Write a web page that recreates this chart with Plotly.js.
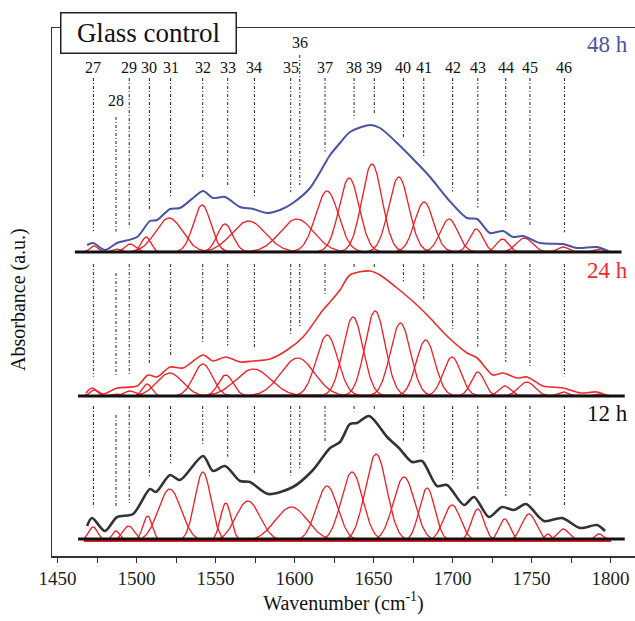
<!DOCTYPE html>
<html><head><meta charset="utf-8">
<script src="https://cdn.plot.ly/plotly-3.0.1.min.js"></script>
<style>
html,body{margin:0;padding:0;background:#fff;}
#chart{width:635px;height:621px;}
#chart svg text, #chart svg tspan { font-family: "Liberation Serif", "Times New Roman", serif !important; }
</style>
</head><body><div id="chart"></div>
<script>
// ---------- DATA ----------
const bandLabels = ['27','28','29','30','31','32','33','34','35','36','37','38','39','40','41','42','43','44','45','46'];
const bandPos = [1472.7,1487,1495.4,1508.1,1521.6,1541.9,1557.7,1574.6,1597.6,1603.3,1619.3,1637.7,1650.5,1668.9,1681.8,1700.1,1716,1733.7,1749,1770.8];

const panelNames = ['48 h','24 h','12 h'];

const env48W = [1468.7,1472.5,1480,1487.7,1500.3,1508.5,1513,1521.2,1527.5,1535.8,1542.1,1548.4,1556,1565.5,1573.7,1582.6,1590.8,1599,1609.8,1618,1622.5,1628.8,1635.1,1647.8,1654.1,1664.9,1677.5,1685.8,1696.5,1709.2,1715.6,1723.7,1732,1738.3,1744.6,1755.4,1770,1778.8,1791.5,1798.4];
const env48A = [7,9,2,9,15,31,32,43,44,54,61,54,55,45,43,39,42,49,64,85,97,109,120,127,124,109,89,75,54,34,33,19,21,15,16,9,8,4,5,1];

const env24W = [1468,1471.8,1478.8,1487.7,1500.3,1507.3,1513,1521.2,1529.4,1542.1,1548.4,1556.6,1565.5,1573.7,1584.5,1595.3,1605.4,1618,1622.5,1628.8,1635.1,1647.8,1654.1,1664.9,1677.5,1685.8,1696.5,1709.2,1715.6,1725.6,1732,1740.8,1747.2,1757.3,1770,1780.7,1791.5,1798.4];
const env24A = [3,8,2,8,10,21,19,29,28,41,35,39,34,35,37,46,59,86,94,106,121,125,121,108,91,78,60,43,38,21,23,18,19,10,8,3,4,0];

const env12W = [1468.7,1471.8,1480,1487.7,1497.8,1508.5,1512.3,1521.2,1527.5,1542.1,1548.4,1556,1565.5,1571.8,1583.2,1599,1611.7,1622.5,1628.8,1635.1,1639.6,1647.2,1658.6,1666.1,1674.4,1680.7,1690.2,1696.5,1707.3,1713.6,1723.1,1731.3,1738.9,1746.5,1757.9,1769.3,1780.7,1791.5,1796.5];
const env12A = [13,21,8,22,25,50,47,64,59,83,68,73,58,57,45,52,69,91,97,115,116,123,102,91,77,78,53,54,34,42,22,32,29,35,18,21,11,14,8];

const comp48Center = [1473,1487,1496,1506,1520.6,1541.5,1556,1571,1601.5,1620.6,1634.6,1649,1666,1682,1697.8,1715,1731.6,1745.5,1770,1793];
const comp48Height = [6,3,8,15,34,47,28,31,33,61,74,88,75,50,33,23,13,14,5,3];
const comp48Fwhm   = [6,6,8,7,20,13,11.5,25,25,17,15,15,15,14,13,10,9,12,8,8];

const comp24Center = [1473,1487,1496,1506.6,1521,1542,1556.5,1574,1602,1620.6,1637,1651,1667,1683,1699.7,1716,1733,1747,1770,1793];
const comp24Height = [6,2,5,12,23,32,21,27,38,61,79,85,73,56,39,24,10,14,4,2];
const comp24Fwhm   = [6,6,9,7,19,14,11,26,25,16,15,15,15,14,13,10,9,12,8,8];

const comp12Center = [1472.5,1487,1495,1507,1521,1542,1556.5,1570.5,1598,1620.6,1636.4,1651.6,1669.3,1683.9,1699.7,1716,1733,1748.4,1760.4,1770,1792.7];
const comp12Height = [14,10,15,25,52,69,38,40,34,55,69,87,64,53,36,32,22,27,7,12,7];
const comp12Fwhm   = [7,6,9,7,17,12,8,18,24,16,16,16,16,11.6,12.7,9.5,8.4,11,5,9,7];

// ---------- BUILD ----------
const serif = '"Liberation Serif", serif';
const panels = [
  {name: panelNames[0], envW: env48W, envA: env48A, c: comp48Center, h: comp48Height, f: comp48Fwhm,
   off: 304, envColor: '#4a52a6', envWidth: 2, compOff: 0, top: 478, nameY: 512, base: [1461,1807]},
  {name: panelNames[1], envW: env24W, envA: env24A, c: comp24Center, h: comp24Height, f: comp24Fwhm,
   off: 160, envColor: '#ee2b2b', envWidth: 1.6, compOff: 0, top: 292, nameY: 286, base: [1463,1809]},
  {name: panelNames[2], envW: env12W, envA: env12A, c: comp12Center, h: comp12Height, f: comp12Fwhm,
   off: 17, envColor: '#333333', envWidth: 2.6, compOff: -2, top: 150, nameY: 143, base: [1463,1809]}
];
const nameColors = ['#4a52a6','#ee2b2b','#111111'];

const grid = [];
for (let x = 1467; x <= 1800.001; x += 0.5) grid.push(x);

function interp(xs, ys, x) {
  if (x <= xs[0]) return ys[0];
  for (let i = 1; i < xs.length; i++) {
    if (x <= xs[i]) { const t = (x - xs[i-1]) / (xs[i] - xs[i-1]); return ys[i-1] + t * (ys[i] - ys[i-1]); }
  }
  return ys[ys.length - 1];
}

const traces = [];
const annotations = [];
panels.forEach((p, pi) => {
  const cx = [], cy = [];
  p.c.forEach((c, i) => {
    const s = p.f[i] / (2 * Math.sqrt(2 * Math.log(2)));
    grid.forEach(x => { cx.push(x); cy.push(p.off + p.compOff + p.h[i] * Math.exp(-0.5 * ((x - c) / s) ** 2)); });
    cx.push(null); cy.push(null);
  });
  traces.push({x: cx, y: cy, mode: 'lines', line: {color: '#ee1d24', width: 1.3}, hoverinfo: 'skip'});
  traces.push({x: p.envW, y: p.envA.map(a => a + p.off), mode: 'lines',
    line: {color: p.envColor, width: p.envWidth, shape: 'spline', smoothing: 0.8}, hoverinfo: 'skip'});
  traces.push({x: p.base, y: [p.off, p.off], mode: 'lines', line: {color: '#111', width: 3}, hoverinfo: 'skip'});
  const lx = [], ly = [];
  bandPos.forEach((b, i) => {
    let top = p.top;
    if (bandLabels[i] === '28') top -= (pi === 0 ? 39 : 9);
    if (bandLabels[i] === '36' && pi === 0) top += 23;
    let bottom = p.off + interp(p.envW, p.envA, b) + 12;
    if (bottom > top - 5) bottom = top - 5;
    lx.push(b, b, null); ly.push(top, bottom, null);
  });
  traces.push({x: lx, y: ly, mode: 'lines', line: {color: '#222', width: 1, dash: '3px,2px,1px,2px'}, hoverinfo: 'skip'});
  annotations.push({xref: 'x', yref: 'y', x: 1798.4, y: p.nameY, text: p.name, showarrow: false,
    font: {family: serif, size: 23, color: nameColors[pi]}});
});

bandLabels.forEach((lab, i) => {
  let y = 489;
  if (lab === '28') y = 456;
  if (lab === '36') y = 514;
  annotations.push({xref: 'x', yref: 'y', x: bandPos[i], y: y, text: lab, showarrow: false,
    font: {family: serif, size: 16, color: '#111'}});
});

annotations.push({xref: 'paper', yref: 'paper', x: (148 - 52) / 583, y: (556 - 33.5) / 528,
  xanchor: 'center', yanchor: 'middle', text: 'Glass control', showarrow: false,
  font: {family: serif, size: 27, color: '#111'}, bgcolor: '#fff', bordercolor: '#222', borderwidth: 1.5,
  width: 170, height: 35, borderpad: 2});
annotations.push({xref: 'paper', yref: 'paper', x: (18 - 52) / 583, y: (556 - 300) / 528,
  xanchor: 'center', yanchor: 'middle', textangle: -90, text: 'Absorbance (a.u.)', showarrow: false,
  font: {family: serif, size: 20, color: '#111'}});

const layout = {
  width: 635, height: 621,
  margin: {l: 52, r: 0, t: 28, b: 65},
  paper_bgcolor: '#fff', plot_bgcolor: '#fff',
  showlegend: false,
  font: {family: serif},
  xaxis: {range: [1446.5, 1815.5], showgrid: false, zeroline: false, showline: true, mirror: true,
    linecolor: '#333', linewidth: 1.5, ticks: 'outside', ticklen: 5, tickcolor: '#333', tick0: 1450, dtick: 50,
    minor: {dtick: 25, ticks: 'outside', ticklen: 5, tickcolor: '#333'},
    tickfont: {family: serif, size: 19, color: '#222'},
    title: {text: 'Wavenumber (cm<sup>-1</sup>)', font: {family: serif, size: 20, color: '#111'}, standoff: 6}},
  yaxis: {range: [0, 528], showgrid: false, zeroline: false, showline: true, linecolor: '#333', linewidth: 1.5,
    showticklabels: false, ticks: ''},
  annotations: annotations
};

Plotly.newPlot('chart', traces, layout, {staticPlot: true});
</script>
</body></html>
